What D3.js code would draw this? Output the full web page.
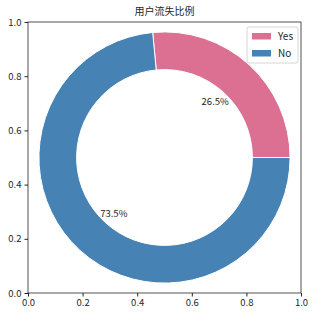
<!DOCTYPE html>
<html>
<head>
<meta charset="utf-8">
<script src="https://cdn.jsdelivr.net/npm/d3@7"></script>
<style>
  body { margin: 0; background: #fff; }
  text { font-family: "Noto Sans CJK SC", "DejaVu Sans", sans-serif; fill: #262626; }
</style>
</head>
<body>
<svg id="chart" width="313" height="319"></svg>
<script>
// data
var categories = ["Yes", "No"];
var shares = [26.5, 73.5];
var colors = ["#db7093", "#4682b4"];
var ticks = [0, 0.2, 0.4, 0.6, 0.8, 1.0];
var title = "用户流失比例";

var margin = { left: 28, top: 22, right: 12, bottom: 26 };
var width = 313 - margin.left - margin.right;
var height = 319 - margin.top - margin.bottom;

var svg = d3.select("#chart");
var g = svg.append("g")
    .attr("transform", "translate(" + margin.left + "," + margin.top + ")");

var x = d3.scaleLinear().domain([0, 1]).range([0, width]);
var y = d3.scaleLinear().domain([0, 1]).range([height, 0]);

// donut, matplotlib style: counterclockwise from 3 o'clock
var outerR = x(0.46) - x(0);
var innerR = outerR * 0.7;
var pie = d3.pie()
    .sort(null)
    .startAngle(Math.PI / 2)
    .endAngle(Math.PI / 2 - 2 * Math.PI);
var arc = d3.arc().innerRadius(innerR).outerRadius(outerR);
var labelArc = d3.arc().innerRadius(outerR * 0.6).outerRadius(outerR * 0.6);

var donut = g.append("g")
    .attr("transform", "translate(" + x(0.5) + "," + y(0.5) + ")");

var slices = donut.selectAll("g.slice")
    .data(pie(shares))
    .enter()
    .append("g")
    .attr("class", "slice");
slices.append("path")
    .attr("d", arc)
    .attr("fill", function (d, i) { return colors[i]; })
    .attr("stroke", "#fff")
    .attr("stroke-width", 1);
slices.append("text")
    .attr("transform", function (d) { return "translate(" + labelArc.centroid(d) + ")"; })
    .attr("text-anchor", "middle")
    .attr("dy", "0.35em")
    .attr("font-size", "9.5px")
    .text(function (d) { return d.data.toFixed(1) + "%"; });

// axes
var fmt = d3.format(".1f");
g.append("g")
    .attr("transform", "translate(0," + height + ")")
    .call(d3.axisBottom(x).tickValues(ticks).tickFormat(fmt).tickSize(3.5).tickPadding(3))
    .call(function (a) { a.select(".domain").remove(); });
g.append("g")
    .call(d3.axisLeft(y).tickValues(ticks).tickFormat(fmt).tickSize(3.5).tickPadding(3))
    .call(function (a) { a.select(".domain").remove(); });
g.selectAll(".tick text")
    .attr("font-size", "9.5px")
    .attr("font-family", "'Noto Sans CJK SC', sans-serif")
    .attr("fill", "#262626");
g.selectAll(".tick line").attr("stroke", "#262626");

g.append("rect")
    .attr("width", width)
    .attr("height", height)
    .attr("fill", "none")
    .attr("stroke", "#262626")
    .attr("stroke-width", 0.8);

// title
g.append("text")
    .attr("x", width / 2)
    .attr("y", -7)
    .attr("text-anchor", "middle")
    .attr("font-size", "10px")
    .text(title);

// legend
var legend = g.append("g").attr("transform", "translate(" + (width - 54) + ",5)");
legend.append("rect")
    .attr("width", 51)
    .attr("height", 36)
    .attr("rx", 2)
    .attr("fill", "#fff")
    .attr("fill-opacity", 0.8)
    .attr("stroke", "#ccc")
    .attr("stroke-width", 0.8);
var items = legend.selectAll("g.item")
    .data(categories)
    .enter()
    .append("g")
    .attr("class", "item")
    .attr("transform", function (d, i) { return "translate(5," + (6 + i * 17) + ")"; });
items.append("rect")
    .attr("width", 19)
    .attr("height", 6.5)
    .attr("fill", function (d, i) { return colors[i]; });
items.append("text")
    .attr("x", 26)
    .attr("y", 3.5)
    .attr("dy", "0.35em")
    .attr("font-size", "10px")
    .text(function (d) { return d; });
</script>
</body>
</html>
